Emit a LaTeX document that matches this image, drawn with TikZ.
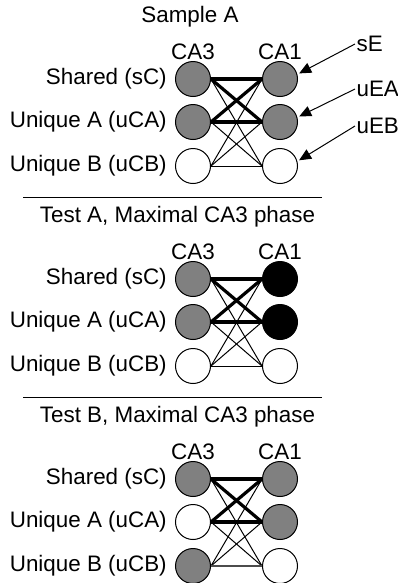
\documentclass[tikz,border=0pt]{standalone}
\usepackage{fontspec}
\setmainfont{Liberation Sans}
\usetikzlibrary{positioning,arrows.meta}

\begin{document}
\begin{tikzpicture}[
    x=0.75pt, y=-0.75pt,
    font=\fontsize{16.8}{19}\selectfont,
    unit/.style={draw, circle, minimum size=26.25pt, inner sep=0pt, line width=0.75pt},
    txt/.style={inner sep=0pt},
    strong/.style={line width=2.4pt},
    weak/.style={line width=0.75pt},
    arrow/.style={-{Triangle[length=9pt,width=8pt]}, line width=0.75pt, shorten >=1.5pt}
]
\useasboundingbox (0,0) rectangle (398,583);

% separators
\draw[line width=0.75pt] (23,197) -- (322,197);
\draw[line width=0.75pt] (23,397) -- (322,397);

% panels: index / offset / title x / title / CA3 fills / CA1 fills / uCB-uCB line
\foreach \i/\dy/\tx/\title/\fa/\fb/\fc/\ga/\gb/\gc/\lc/\lw in {
    1/0/190/{Sample A}/gray/gray/white/gray/gray/white/black/0.75,
    2/200/177.5/{Test A, Maximal CA3 phase}/gray/gray/white/black/black/white/black/0.75,
    3/400/177.5/{Test B, Maximal CA3 phase}/gray/white/gray/gray/gray/white/black!70/1.3}{
  \node[txt] (title\i) at (\tx,17+\dy) {\title};

  % CA3 and CA1 units
  \node[unit, fill=\fa] (ca3s\i) at (193,79+\dy) {};
  \node[unit, fill=\fb] (ca3a\i) at (193,122+\dy) {};
  \node[unit, fill=\fc] (ca3b\i) at (193,166+\dy) {};
  \node[unit, fill=\ga] (ca1s\i) at (280,79+\dy) {};
  \node[unit, fill=\gb] (ca1a\i) at (280,122+\dy) {};
  \node[unit, fill=\gc] (ca1b\i) at (280,166+\dy) {};

  \node[txt, above=0.75pt of ca3s\i] (hca3\i) {CA3};
  \node[txt, above=0.75pt of ca1s\i] (hca1\i) {CA1};
  \node[txt, left=6pt of ca3s\i] (lbs\i) {Shared (sC)};
  \node[txt, left=6pt of ca3a\i] (lba\i) {Unique A (uCA)};
  \node[txt, left=6pt of ca3b\i] (lbb\i) {Unique B (uCB)};

  % connections
  \foreach \u/\v in {s/b,a/b,b/s,b/a}
    \draw[weak] (ca3\u\i.east) -- (ca1\v\i.west);
  \draw[draw=\lc, line width=\lw pt] (ca3b\i.east) -- (ca1b\i.west);
  \foreach \u/\v in {s/s,s/a,a/s,a/a}
    \draw[strong] (ca3\u\i.east) -- (ca1\v\i.west);
}

% inputs to CA1
\node[txt, inner sep=1pt, anchor=west] (sE) at (355,44) {sE};
\node[txt, inner sep=1pt, anchor=west] (uEA) at (355,89) {uEA};
\node[txt, inner sep=1pt, anchor=west] (uEB) at (355,126) {uEB};
\draw[arrow] (sE.west) -- (ca1s1.15);
\draw[arrow] (uEA.west) -- (ca1a1.15);
\draw[arrow] (uEB.west) -- (ca1b1.15);
\end{tikzpicture}
\end{document}
